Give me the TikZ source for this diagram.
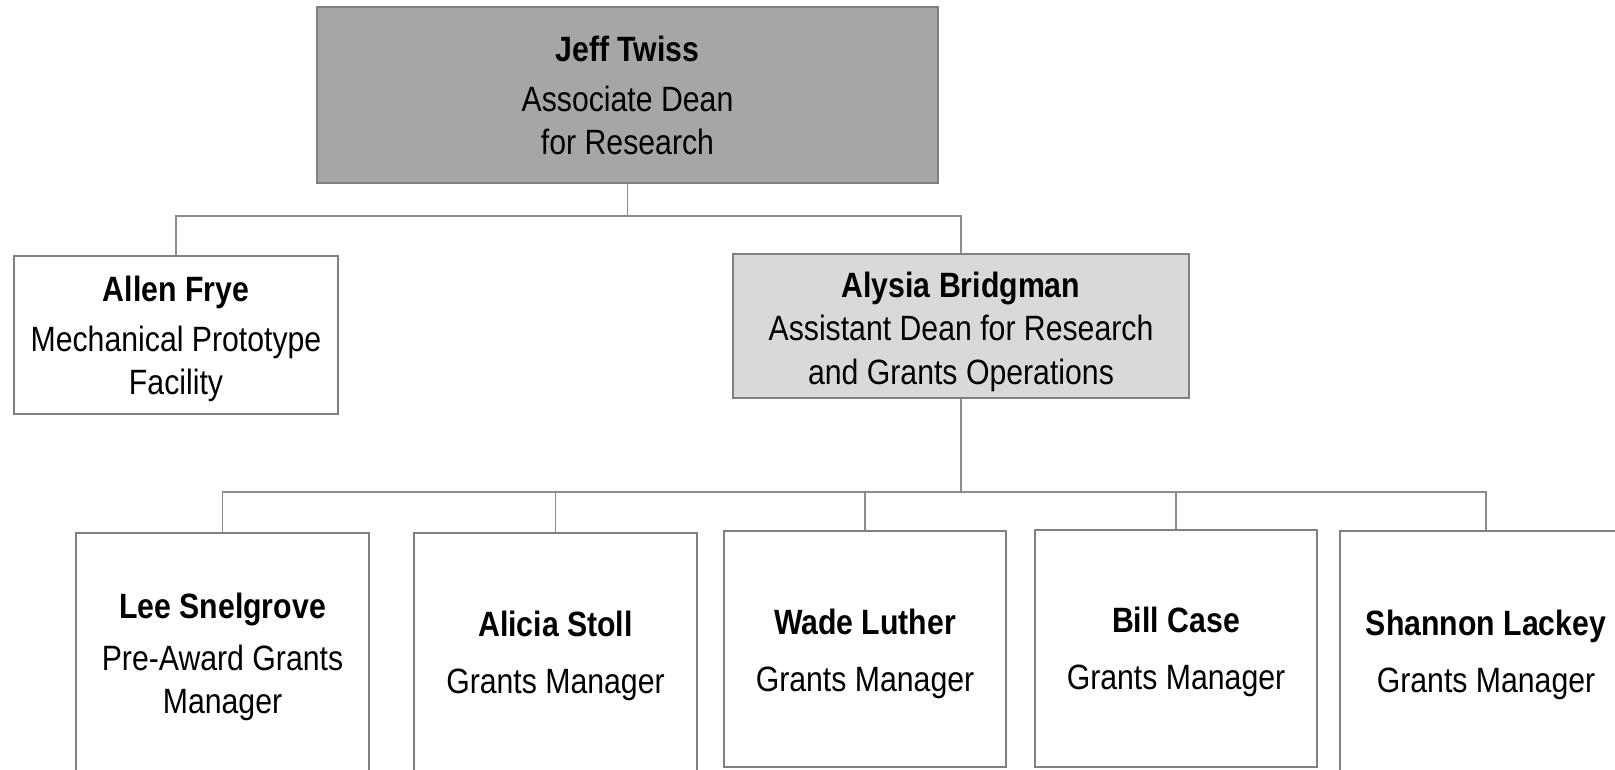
\documentclass[tikz,border=0pt]{standalone}
\usepackage{fontspec}
\setmainfont{Liberation Sans}[FakeStretch=0.86]
\usepackage{xcolor}
\usetikzlibrary{calc}
\definecolor{deangray}{HTML}{A6A6A6}
\definecolor{asstgray}{HTML}{D9D9D9}
\definecolor{edgegray}{HTML}{808080}
\definecolor{wiregray}{HTML}{8C8C8C}
\newcommand{\dropby}[1]{\rule{0pt}{\dimexpr17.5pt+#1*2\relax}}
\tikzset{
 orgbox/.style={draw=edgegray, line width=1.4pt, fill=white, align=center, inner sep=0pt,
   font=\fontsize{25}{30.6}\selectfont},
 wire/.style={draw=wiregray, line width=1.4pt}
}

\begin{document}
\begin{tikzpicture}[x=.025cm, y=-.025cm]
\useasboundingbox (0,0) rectangle (1615,769);
\clip (0,0) rectangle (1615,769);
\node[orgbox, fill=deangray, minimum width=15.53cm, minimum height=4.4cm] (jeff) at (627.5,95)
 {\textbf{Jeff Twiss}\\[5pt] Associate Dean\\ for Research};
\node[orgbox, minimum width=8.1cm, minimum height=3.95cm] (allen) at (176,335)
 {\dropby{3pt}\textbf{Allen Frye}\\[5pt] Mechanical Prototype\\ Facility};
\node[orgbox, fill=asstgray, minimum width=11.4cm, minimum height=3.6cm] (alysia) at (961,326)
 {\dropby{4.5pt}\textbf{Alysia Bridgman}\\ Assistant Dean for Research\\ and Grants Operations};
\node[orgbox, minimum width=7.33cm, minimum height=6.15cm] (lee) at (222.5,656)
 {\dropby{1pt}\textbf{Lee Snelgrove}\\[6pt] Pre-Award Grants\\ Manager};
\node[orgbox, minimum width=7.08cm, minimum height=6.1cm] (alicia) at (555.5,655)
 {\dropby{1pt}\textbf{Alicia Stoll}\\[10pt] Grants Manager};
\node[orgbox, minimum width=7.05cm, minimum height=5.9cm] (wade) at (865,649)
 {\dropby{3.5pt}\textbf{Wade Luther}\\[10pt] Grants Manager};
\node[orgbox, minimum width=7.05cm, minimum height=5.93cm] (bill) at (1176,648.5)
 {\dropby{3pt}\textbf{Bill Case}\\[10pt] Grants Manager};
\node[orgbox, minimum width=7.3cm, minimum height=6.05cm] (shannon) at (1486,652)
 {\dropby{2.2pt}\textbf{Shannon Lackey}\\[10pt] Grants Manager};
\coordinate (topbus) at (628,216);
\coordinate (lowbus) at (961,492);
\draw[wire] (jeff.south) -- (jeff.south |- topbus) -| (allen.north);
\draw[wire] (jeff.south |- topbus) -| (alysia.north);
\draw[wire] (alysia.south) -- (alysia.south |- lowbus);
\foreach \n in {lee,alicia,wade,bill,shannon} {
 \draw[wire] (alysia.south |- lowbus) -| (\n.north);
}
\end{tikzpicture}
\end{document}
